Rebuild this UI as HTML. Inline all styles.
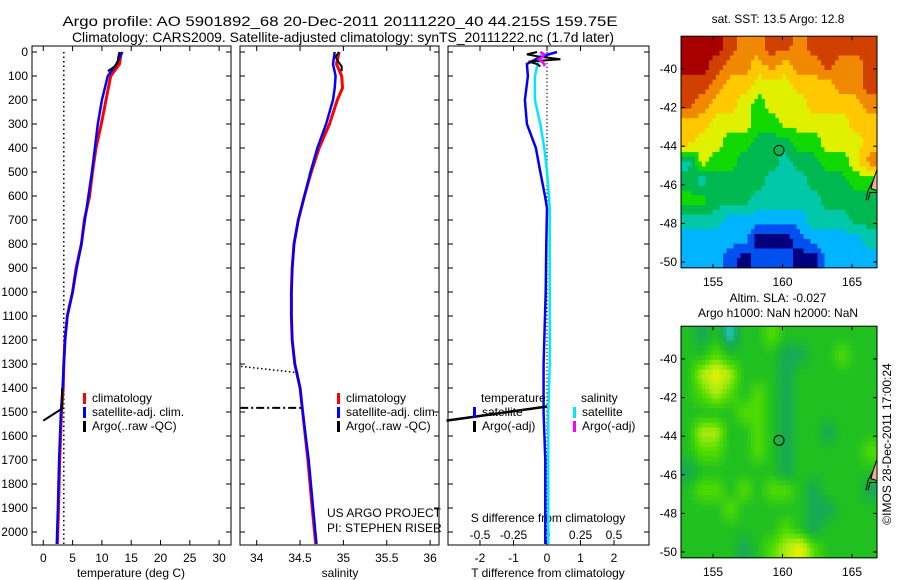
<!DOCTYPE html>
<html><head><meta charset="utf-8"><style>
html,body{margin:0;padding:0;background:#fff}
svg{display:block;font-family:"Liberation Sans",sans-serif;font-size:12px}
</style></head><body>
<svg id="c" width="900" height="580" viewBox="0 0 900 580" xmlns="http://www.w3.org/2000/svg">
<rect width="900" height="580" fill="#fff"/>
<text x="340" y="26" text-anchor="middle" font-size="14" textLength="555" lengthAdjust="spacingAndGlyphs">Argo profile: AO 5901892_68 20-Dec-2011 20111220_40 44.215S 159.75E</text>
<text x="343" y="42" text-anchor="middle" font-size="14" textLength="542" lengthAdjust="spacingAndGlyphs">Climatology: CARS2009. Satellite-adjusted climatology: synTS_20111222.nc (1.7d later)</text>
<g id="g"></g>
</svg>
<script>
// ---- data ----
const depthTicks=[0,100,200,300,400,500,600,700,800,900,1000,1100,1200,1300,1400,1500,1600,1700,1800,1900,2000];
const tDepth=[0,50,100,200,300,400,500,600,700,800,900,1000,1100,1200,1300,1400,1500,1700,1900,2050];
const tClim=[13.3,13.0,11.5,10.7,9.9,9.0,8.4,7.9,7.0,6.5,5.6,5.0,4.1,3.7,3.5,3.4,3.1,2.8,2.6,2.4];
const tSat=[13.5,12.5,11.0,10.0,9.3,8.8,8.3,7.7,7.1,6.5,5.7,5.0,4.1,3.7,3.5,3.3,3.0,2.7,2.5,2.3];
const argoDepth=[0,20,40,60,80];
const argoT=[13.0,12.8,12.7,12.2,11.0];
const argoRawDepth=[1400,1486,1536];
const argoRawT=[3.2,3.2,0.0];
const sDepth=[0,50,100,150,200,300,400,500,600,700,800,900,1000,1100,1200,1300,1400,1500,1700,1900,2050];
const sClim=[34.95,34.92,34.98,34.99,34.93,34.84,34.72,34.63,34.55,34.48,34.43,34.41,34.40,34.40,34.41,34.44,34.50,34.53,34.59,34.64,34.68];
const sSat=[34.90,34.88,34.91,34.90,34.88,34.80,34.70,34.62,34.55,34.48,34.43,34.41,34.40,34.40,34.41,34.44,34.50,34.53,34.60,34.65,34.69];
const argoS=[34.95,34.91,34.94,34.98,34.98];
const argoRawSDepth=[1310,1337];
const argoRawS=[33.82,34.5];
const argoRawS2Depth=[1483,1483];
const argoRawS2=[33.81,34.54];
const dDepth=[0,20,50,100,200,300,400,500,600,650,800,1000,1300,1500,1700,2000,2050];
const dTsat=[0.3,-0.2,-0.6,-0.57,-0.66,-0.6,-0.33,-0.2,-0.06,0,-0.02,-0.04,-0.1,-0.1,-0.05,-0.05,-0.05];
const dSsat=[-0.03,-0.05,-0.07,-0.09,-0.09,-0.05,-0.02,0,0.015,0.02,0.02,0.02,0.02,0.01,0.01,0.01,0.01];
const dArgoDepth=[0,10,20,30,40,50,60];
const dTargo=[-0.3,-0.6,-0.2,0.4,-0.55,-0.3,-0.2];
const dSargo=[-0.05,-0.02,-0.03,-0.06,-0.04,-0.02,-0.02];
const dRawDepth=[1477,1536];
const dRawT=[0,-3.0];
const tTicks=[0,5,10,15,20,25,30];
const sTicks=[34,34.5,35,35.5,36];
const sTickLbl=['34','34.5','35','35.5','36'];
const dtTicks=[-2,-1,0,1,2];
const dsTicks=[-0.5,-0.25,0,0.25,0.5];
const lonTicks=[155,160,165];
const latTicks=[-40,-42,-44,-46,-48,-50];
const sstGrid=[
[10,10,10,9,8,8,9,9,8,9,9,9,9,9],
[10,10,9,8,8,7,8,7,8,8,9,8,8,9],
[9,9,8,7,7,6,6,6,7,7,7,8,8,9],
[9,8,7,7,6,5,6,6,6,7,7,7,7,8],
[7,7,6,6,6,5,5,6,6,6,6,6,7,7],
[7,6,6,5,5,4,4,4,5,5,6,6,6,7],
[3,6,5,5,4,4,4,3,4,4,5,5,6,8],
[4,3,4,4,4,4,3,3,3,4,4,4,5,5],
[5,5,4,4,4,3,3,3,3,3,4,4,4,4],
[3,3,3,2,2,2,2,2,2,3,3,3,4,4],
[2,2,2,2,2,0,0,0,1,2,2,2,2,3],
[2,2,2,1,0,1,1,1,0,0,2,2,2,2]];
const slaGrid=[
[2,1,2,0,2,2,3,2,2,2,2,2,2,2],
[2,2,3,2,2,2,2,1,1,2,2,3,2,2],
[2,4,5,4,2,2,2,1,2,2,2,2,2,2],
[2,3,4,3,2,3,2,1,2,2,2,2,2,2],
[2,2,2,2,3,3,2,1,2,2,2,2,2,2],
[2,4,4,2,2,3,2,1,2,2,1,2,2,2],
[2,3,3,2,2,3,2,1,2,2,2,2,2,3],
[1,2,2,2,2,2,2,1,2,2,2,2,2,2],
[2,3,3,2,3,2,3,3,2,1,2,2,2,1],
[2,2,2,3,2,2,2,2,2,1,1,2,2,2],
[2,2,2,2,2,2,2,3,2,1,2,2,2,2],
[2,2,2,2,1,2,3,4,5,3,2,2,2,2]];
const sstColors=['#00007f','#0050f0','#00b4ff','#00c8a8','#00b850','#10d800','#e0f000','#ffc800','#f08800','#d04000','#a80000'];
const slaColors=['#20c8c0','#18a858','#20c020','#50dc00','#b0ec10','#e8f000'];

// ---- helpers ----
const NS='http://www.w3.org/2000/svg';
const G=document.getElementById('g');
function mk(tag,at,parent){const e=document.createElementNS(NS,tag);for(const k in at)e.setAttribute(k,at[k]);(parent||G).appendChild(e);return e;}
const Y=d=>52+d*0.24;
const BOT=545, TOP=46;
const xT=v=>43.3+v*5.86;
const xS=v=>256.7+(v-34)*86.7;
const xDT=v=>547+v*33.5;
const xDS=v=>547+v*134;
function line(xs,ys,fx,color,w,name,dash){
  const pts=xs.map((v,i)=>fx(v).toFixed(1)+','+Y(ys[i]).toFixed(1)).join(' ');
  const p=mk('polyline',{points:pts,fill:'none',stroke:color,'stroke-width':w});
  if(dash)p.setAttribute('stroke-dasharray',dash);
  
  
  return p;
}
function txt(x,y,s,anchor,name){const t=mk('text',{x:x,y:y,'text-anchor':anchor||'start'});t.textContent=s;
  
  return t;}
function box(x0,x1,name){const r=mk('rect',{x:x0,y:TOP,width:x1-x0,height:BOT-TOP,fill:'none',stroke:'#000','stroke-width':1});
  
  
  depthTicks.forEach(d=>{mk('line',{x1:x0,x2:x0+5,y1:Y(d),y2:Y(d),stroke:'#000'});mk('line',{x1:x1,x2:x1-5,y1:Y(d),y2:Y(d),stroke:'#000'});});}
function xticks(vals,fx,labels,name){vals.forEach((v,i)=>{const x=fx(v);mk('line',{x1:x,x2:x,y1:BOT,y2:BOT-5,stroke:'#000'});mk('line',{x1:x,x2:x,y1:TOP,y2:TOP+5,stroke:'#000'});
  txt(x,562,labels?labels[i]:String(v),'middle',name);});}

// ---- panel 1 temperature ----
box(32,231,'temperature-panel');
depthTicks.forEach(d=>txt(28,Y(d)+4,String(d),'end','depth-tick-label'));
xticks(tTicks,xT,null,'temperature-tick-label');
txt(131,577,'temperature (deg C)','middle','temperature-axis-title');
line([3.5,3.5],[0,2050],xT,'#000',1.5,'temperature-reference-dotted','1.5,3');
line(tClim,tDepth,xT,'#f00',3,'temperature-climatology-line');
line(tSat,tDepth,xT,'#00f',2.5,'temperature-satellite-line');
line(argoT,argoDepth,xT,'#000',2,'temperature-argo-line');
line(argoRawT,argoRawDepth,xT,'#000',2,'temperature-argo-raw-line');
// ---- panel 2 salinity ----
box(240,439,'salinity-panel');
xticks(sTicks,xS,sTickLbl,'salinity-tick-label');
txt(340,577,'salinity','middle','salinity-axis-title');
line(sClim,sDepth,xS,'#f00',3,'salinity-climatology-line');
line(sSat,sDepth,xS,'#00f',2.5,'salinity-satellite-line');
line(argoS,argoDepth,xS,'#000',2,'salinity-argo-line');
line(argoRawS,argoRawSDepth,xS,'#000',1.5,'salinity-argo-raw-dotted','1.5,2.5');
line(argoRawS2,argoRawS2Depth,xS,'#000',2,'salinity-argo-raw-dashdot','8,3,2,3');
txt(327,517,'US ARGO PROJECT','start','project-credit');
txt(327,532,'PI: STEPHEN RISER','start','pi-credit');
function legend(x,y,items,name){items.forEach((it,i)=>{const yy=y+i*14;
  const r=mk('rect',{x:x,y:yy-9,width:3,height:11,fill:it[0]});
  
  
  txt(x+9,yy,it[1],'start',name+'-label');});}
legend(83,402,[['#f00','climatology'],['#00f','satellite-adj. clim.'],['#000','Argo(..raw -QC)']],'temperature-legend');
legend(337,402,[['#f00','climatology'],['#00f','satellite-adj. clim.'],['#000','Argo(..raw -QC)']],'salinity-legend');
// ---- panel 3 differences ----
box(448,649,'difference-panel');
dtTicks.forEach(v=>{const x=xDT(v);mk('line',{x1:x,x2:x,y1:BOT,y2:BOT-5,stroke:'#000'});mk('line',{x1:x,x2:x,y1:TOP,y2:TOP+5,stroke:'#000'});txt(x,562,String(v),'middle','t-diff-tick-label');});
dsTicks.forEach(v=>txt(xDS(v),539,String(v),'middle','s-diff-tick-label'));
txt(548,522,'S difference from climatology','middle','s-diff-axis-title');
txt(548,577,'T difference from climatology','middle','t-diff-axis-title');
line([0,0],[0,2050],xDT,'#000',1.2,'zero-reference-dotted','1.2,2.5');
line(dTsat,dDepth,xDT,'#00f',2.5,'t-diff-satellite-line');
line(dSsat,dDepth,xDS,'#00e8ff',2.5,'s-diff-satellite-line');
line(dTargo,dArgoDepth,xDT,'#000',2,'t-diff-argo-line');
line(dSargo,dArgoDepth,xDS,'#f0f',2.5,'s-diff-argo-line');
line(dRawT,dRawDepth,xDT,'#000',2.5,'t-diff-argo-raw-line');
txt(481,402,'temperature','start','temperature-legend-heading');
txt(581,402,'salinity','start','salinity-legend-heading');
legend(473,416,[['#00f','satellite'],['#000','Argo(-adj)']],'t-diff-legend');
legend(573,416,[['#00e8ff','satellite'],['#f0f','Argo(-adj)']],'s-diff-legend');
// ---- maps ----
const LON0=152.7,LON1=166.8;
const lx=v=>713+(v-155)*13.9;
function hex2rgb(h){return [1,3,5].map(i=>parseInt(h.substr(i,2),16));}
function sample(grid,fr,fc){const R=grid.length,C=grid[0].length;
  const r=Math.min(Math.max(fr-0.5,0),R-1),c=Math.min(Math.max(fc-0.5,0),C-1);
  const r0=Math.floor(r),c0=Math.floor(c),r1=Math.min(r0+1,R-1),c1=Math.min(c0+1,C-1);
  const a=r-r0,b=c-c0;
  return grid[r0][c0]*(1-a)*(1-b)+grid[r0][c1]*(1-a)*b+grid[r1][c0]*a*(1-b)+grid[r1][c1]*a*b;}
function colorAt(colors,v,smooth){
  if(!smooth){return colors[Math.max(0,Math.min(colors.length-1,Math.round(v)))];}
  const i=Math.max(0,Math.min(colors.length-2,Math.floor(v))),f=Math.max(0,Math.min(1,v-i));
  const a=hex2rgb(colors[i]),b=hex2rgb(colors[i+1]);
  return 'rgb('+a.map((x,k)=>Math.round(x+(b[k]-x)*f)).join(',')+')';}
function map(grid,colors,lat40,name,smooth){
  const ly=v=>lat40+(-40-v)*19.3;
  const x0=lx(LON0),x1=lx(LON1),y0=ly(-38.3),y1=ly(-50.3);
  const rows=grid.length,cols=grid[0].length,F=4;
  const cw=(x1-x0)/(cols*F),ch=(y1-y0)/(rows*F);
  for(let r=0;r<rows*F;r++)for(let c=0;c<cols*F;c++){
    const v=sample(grid,(r+0.5)/F,(c+0.5)/F);
    const cell=mk('rect',{x:(x0+c*cw).toFixed(1),y:(y0+r*ch).toFixed(1),width:(cw+0.5).toFixed(1),height:(ch+0.5).toFixed(1),fill:colorAt(colors,v,smooth)});
    
    
  }
  const b=mk('rect',{x:x0,y:y0,width:x1-x0,height:y1-y0,fill:'none',stroke:'#000'});
  
  
  lonTicks.forEach(v=>{mk('line',{x1:lx(v),x2:lx(v),y1:y1,y2:y1-4,stroke:'#000'});mk('line',{x1:lx(v),x2:lx(v),y1:y0,y2:y0+4,stroke:'#000'});txt(lx(v),y1+18,String(v),'middle',name+'-lon-label');});
  latTicks.forEach(v=>{mk('line',{x1:x0,x2:x0+4,y1:ly(v),y2:ly(v),stroke:'#000'});mk('line',{x1:x1,x2:x1-4,y1:ly(v),y2:ly(v),stroke:'#000'});txt(x0-4,ly(v)+4,String(v),'end',name+'-lat-label');});
  const c=mk('circle',{cx:lx(159.75),cy:ly(-44.215),r:5,fill:'none',stroke:'#000'});
  
  
  const land=mk('path',{d:`M${x1},${ly(-45.2)} L${x1-4},${ly(-45.8)} L${x1-6},${ly(-46.2)} L${x1},${ly(-46.3)} Z`,fill:'#f0b090',stroke:'#000'});
  
  
  const coast=mk('path',{d:`M${x1-4},${ly(-45.8)} L${x1-9},${ly(-46.3)} L${x1-11},${ly(-46.8)} M${x1},${ly(-46.4)} L${x1-7},${ly(-46.4)} L${x1-9},${ly(-46.8)}`,fill:'none',stroke:'#000'});
  
  
}
map(sstGrid,sstColors,69,'sst-map',false);
map(slaGrid,slaColors,359,'sla-map',true);
txt(778,23,'sat. SST: 13.5 Argo: 12.8','middle','sst-map-title');
txt(778,302,'Altim. SLA: -0.027','middle','sla-map-title');
txt(778,317,'Argo h1000: NaN h2000: NaN','middle','sla-map-subtitle');
const cr=txt(0,0,'©IMOS 28-Dec-2011 17:00:24','middle','imos-timestamp');
cr.setAttribute('transform','translate(891,444) rotate(-90)');
</script>
</body></html>
